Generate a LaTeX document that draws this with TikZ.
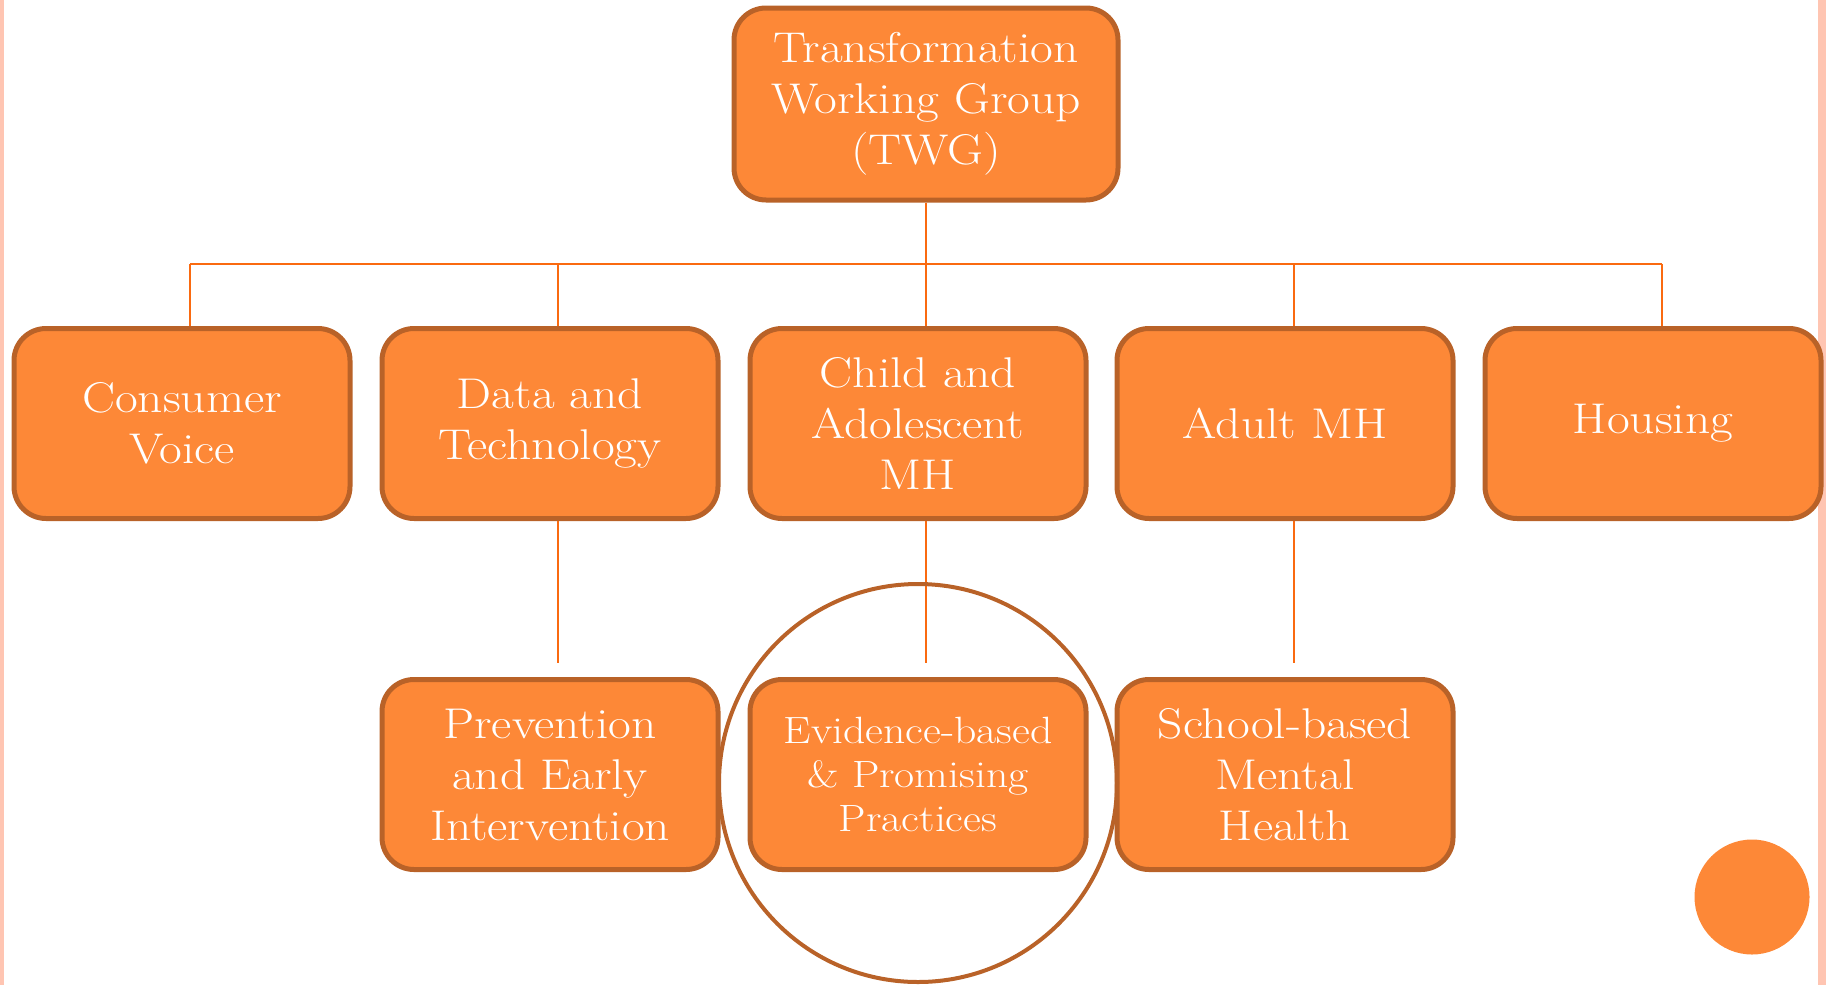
\documentclass[tikz,border=0pt]{standalone}
\usepackage{fontspec}
\setmainfont{Latin Modern Roman}[FakeStretch=1.15]
\definecolor{boxfill}{RGB}{253,136,55}
\definecolor{boxline}{RGB}{185,98,40}
\definecolor{wire}{RGB}{250,106,16}
\definecolor{edgebar}{RGB}{255,197,178}
\tikzset{
  group/.style={draw=boxline, line width=2.5pt, fill=boxfill, rounded corners=16pt,
    text=white, align=center, minimum width=168pt, minimum height=95pt,
    font=\fontsize{21.5}{25.5}\selectfont},
  wireline/.style={draw=wire, line width=1pt},
}
\begin{document}
\begin{tikzpicture}[x=0.5pt,y=-0.5pt]
\useasboundingbox (0,0) rectangle (1829,985);
\fill[edgebar] (0,0) rectangle (4,985);
\fill[edgebar] (1818,0) rectangle (1826,985);

\node[group, minimum width=192pt, minimum height=96pt] (v0) at (926,104) {Transformation\\Working Group\\(TWG)};

\node[group] (v1) at (182,423.5) {Consumer\\Voice};
\node[group] (v2) at (550,423.5) {Data and\\Technology};
\node[group] (v3) at (918,423.5) {Child and\\Adolescent\\MH};
\node[group] (v4) at (1285,423.5) {Adult MH};
\node[group] (v5) at (1653,423.5) {Housing};

\node[group] (v6) at (550,774.5) {Prevention\\and Early\\Intervention};
\node[group, font=\fontsize{19}{22}\selectfont] (v7) at (918,774.5) {Evidence-based\\\& Promising\\Practices};
\node[group] (v8) at (1285,774.5) {School-based\\Mental\\Health};

\coordinate (b1) at (190,264);
\coordinate (b2) at (558,264);
\coordinate (b3) at (926,264);
\coordinate (b4) at (1294,264);
\coordinate (b5) at (1662,264);
\coordinate (c2) at (558,663);
\coordinate (c3) at (926,663);
\coordinate (c4) at (1294,663);
\coordinate (ring) at (918,783);

\draw[wireline] (v0) -- (b3);
\draw[wireline] (b1) -- (b5);
\draw[wireline] (b1) -- (b1 |- v1.north);
\draw[wireline] (b2) -- (b2 |- v2.north);
\draw[wireline] (b3) -- (b3 |- v3.north);
\draw[wireline] (b4) -- (b4 |- v4.north);
\draw[wireline] (b5) -- (b5 |- v5.north);
\draw[wireline] (c2 |- v2.south) -- (c2);
\draw[wireline] (c3 |- v3.south) -- (c3);
\draw[wireline] (c4 |- v4.south) -- (c4);

\draw[boxline, line width=2pt] (ring) circle[radius=199];
\fill[boxfill] (1752,897) circle[radius=57.5];
\end{tikzpicture}
\end{document}
